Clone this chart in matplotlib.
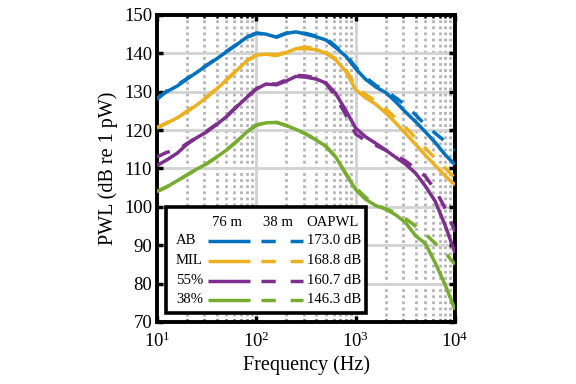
import numpy as np
import matplotlib
matplotlib.use("Agg")
import matplotlib.pyplot as plt
from matplotlib.patches import Rectangle

plt.rcParams['font.family'] = ['Liberation Serif', 'DejaVu Serif']
plt.rcParams['mathtext.fontset'] = 'custom'
plt.rcParams['mathtext.rm'] = 'Liberation Serif'
plt.rcParams['mathtext.it'] = 'Liberation Serif:italic'

# one-third octave band centre frequencies (Hz)
freq = [10, 12.5, 16, 20, 25, 31.5, 40, 50, 63, 80, 100, 125, 160, 200, 250, 315,
        400, 500, 630, 800, 1000, 1250, 1600, 2000, 2500, 3150, 4000, 5000, 6300,
        8000, 10000]

# PWL at 76 m (solid) and 38 m (dashed)
ab_76 = [128.3, 130.0, 131.5, 133.3, 135.0, 136.8, 138.6, 140.4, 142.2, 144.2, 145.3,
         145.0, 144.2, 145.2, 145.6, 145.0, 144.3, 143.5, 141.5, 139.2, 136.0, 133.3,
         131.2, 129.8, 127.5, 124.8, 122.2, 119.6, 116.8, 113.5, 111.0]
ab_38 = [128.0, 130.2, 131.8, 133.4, 135.2, 136.9, 138.7, 140.5, 142.3, 144.1, 145.2,
         145.0, 144.3, 145.3, 145.5, 145.2, 144.5, 144.0, 141.8, 139.5, 136.4, 133.8,
         131.6, 130.3, 128.5, 126.6, 124.0, 121.4, 119.2, 117.0, 114.8]
mil_76 = [120.7, 121.8, 123.2, 124.8, 126.5, 128.5, 130.8, 133.0, 135.5, 138.0, 139.5,
          139.8, 139.4, 140.2, 141.2, 141.2, 141.0, 140.0, 138.3, 135.2, 130.5, 128.5,
          126.7, 124.5, 122.0, 119.2, 116.3, 113.5, 110.8, 108.0, 105.7]
mil_38 = [120.5, 121.9, 123.3, 124.9, 126.6, 128.6, 130.9, 133.1, 135.6, 138.1, 139.6,
          139.9, 139.6, 140.4, 141.3, 141.6, 141.4, 140.2, 138.6, 135.6, 131.5, 129.3,
          127.5, 125.5, 123.3, 120.8, 118.0, 115.3, 112.7, 110.0, 107.5]
p55_76 = [110.8, 112.2, 114.0, 116.3, 118.0, 119.5, 121.5, 123.5, 126.0, 128.5, 130.7,
          132.0, 131.8, 132.8, 134.0, 133.8, 133.3, 132.3, 129.5, 125.0, 120.5, 118.3,
          116.5, 114.8, 113.0, 111.2, 108.8, 105.5, 101.5, 95.0, 88.0]
p55_38 = [113.0, 114.2, 114.8, 116.5, 118.1, 119.7, 121.6, 123.6, 126.1, 128.6, 130.8,
          132.1, 132.0, 133.1, 134.3, 134.1, 133.6, 132.2, 128.8, 123.8, 119.0, 117.3,
          116.0, 114.8, 113.5, 112.0, 110.0, 108.0, 104.5, 99.5, 93.5]
p38_76 = [104.0, 105.2, 106.8, 108.3, 109.8, 111.2, 113.0, 114.8, 117.0, 119.5, 121.3,
          121.9, 122.0, 121.2, 120.2, 119.0, 117.4, 115.8, 113.0, 108.5, 104.5, 102.0,
          100.3, 99.4, 98.0, 96.0, 92.5, 90.5, 85.5, 79.5, 73.2]
p38_38 = [104.0, 105.2, 106.8, 108.3, 109.8, 111.2, 113.0, 114.8, 117.0, 119.5, 121.3,
          121.9, 122.0, 121.2, 120.2, 119.0, 117.4, 115.8, 113.0, 108.5, 105.0, 102.5,
          100.5, 99.5, 98.5, 97.0, 95.0, 93.0, 90.5, 88.0, 85.0]

labels = ['AB', 'MIL', '55%', '38%']
oapwl = ['173.0 dB', '168.8 dB', '160.7 dB', '146.3 dB']
colors = ['#0072BD', '#EDB120', '#7E2F8E', '#77AC30']
near = [ab_76, mil_76, p55_76, p38_76]
far = [ab_38, mil_38, p55_38, p38_38]

fig = plt.figure(figsize=(5.76, 3.84), dpi=100)
ax = fig.add_axes([0.2726, 0.1615, 0.5174, 0.7995])

lw = 2.5
dash = (0, (4, 4))
for c, s in zip(colors, near):
    ax.plot(freq, s, color=c, lw=lw, solid_capstyle='butt', zorder=3)
for c, s in zip(colors, far):
    ax.plot(freq, s, color=c, lw=lw, linestyle=dash, dash_capstyle='butt', zorder=3)

ax.set_xscale('log')
ax.set_xlim(10, 10000)
ax.set_ylim(70, 150)
ax.set_yticks(np.arange(70, 151, 10))
ax.set_xticks([10, 100, 1000, 10000])

ax.grid(True, which='major', color='#d2d2d2', lw=2.0, zorder=0)
ax.grid(True, which='minor', axis='x', color='#b4b4b4', lw=2.0, linestyle=(0, (1.0, 1.2)), zorder=0)
ax.set_axisbelow(True)

for sp in ax.spines.values():
    sp.set_linewidth(2.8)
ax.tick_params(which='both', direction='in', top=True, right=True, labelsize=13.5,
               width=2.5, color='black')
ax.tick_params(which='major', length=4.5)
ax.tick_params(which='minor', length=2.5, width=1.8)
ax.tick_params(axis='x', pad=7)

ax.set_xlabel('Frequency (Hz)', fontsize=14.5, labelpad=3)
ax.set_ylabel('PWL (dB re 1 pW)', fontsize=14.5, labelpad=4)

# custom table-style legend
tr = ax.transAxes
ax.add_patch(Rectangle((0.030, 0.029), 0.671, 0.346, transform=tr, facecolor='white',
                       edgecolor='black', lw=2.6, zorder=5))
fs = 10.6
ax.text(0.235, 0.3235, '76 m', transform=tr, ha='center', va='center', fontsize=fs, zorder=6)
ax.text(0.406, 0.3235, '38 m', transform=tr, ha='center', va='center', fontsize=fs, zorder=6)
ax.text(0.502, 0.3235, 'OAPWL', transform=tr, ha='left', va='center', fontsize=fs, zorder=6)
rows = [0.2648, 0.1987, 0.1336, 0.0717]
for yy, lab, c, val in zip(rows, labels, colors, oapwl):
    ax.text(0.0638, yy, lab, transform=tr, ha='left', va='center', fontsize=fs, zorder=6)
    ax.plot([0.170, 0.312], [yy, yy], transform=tr, color=c, lw=lw,
            solid_capstyle='butt', zorder=6, clip_on=False)
    ax.plot([0.348, 0.491], [yy, yy], transform=tr, color=c, lw=lw,
            linestyle=(0, (4.1, 4.3)), dash_capstyle='butt', zorder=6, clip_on=False)
    ax.text(0.502, yy, val, transform=tr, ha='left', va='center', fontsize=fs, zorder=6)

fig.savefig('out.png', dpi=100)
